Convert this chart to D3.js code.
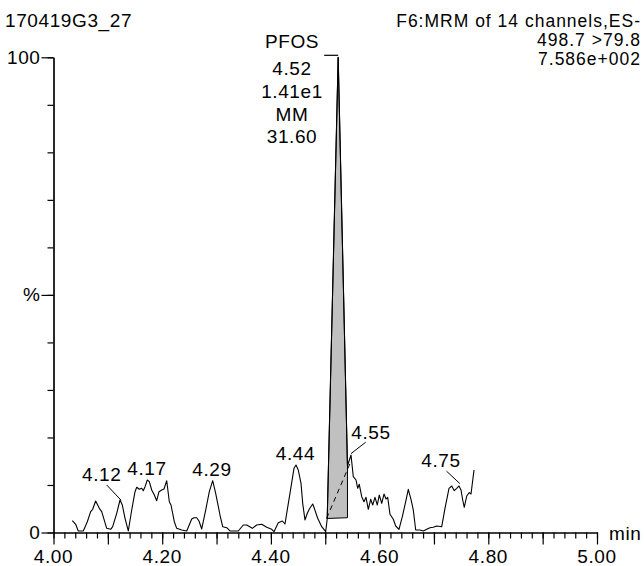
<!DOCTYPE html>
<html><head><meta charset="utf-8">
<script src="https://cdn.jsdelivr.net/npm/d3@7"></script>
<style>
body{margin:0;background:#fff;}
svg text{font-family:"Liberation Sans",Arial,Helvetica,sans-serif;font-size:19px;letter-spacing:0.6px;fill:#000;}
svg text.hdr{font-size:17.5px;letter-spacing:1.0px;}
</style></head><body>
<svg id="c" width="644" height="566"></svg>
<script>
// ---- data ----
const sampleName = "170419G3_27";
const headerLines = ["F6:MRM of 14 channels,ES-", "498.7 >79.8", "7.586e+002"];
const xTickLabels = ["4.00","4.20","4.40","4.60","4.80","5.00"];
const xMajorTicks = [4.0,4.1,4.2,4.3,4.4,4.5,4.6,4.7,4.8,4.9,5.0];
const yTickValues = [0,50,100];
const yTickLabels = ["0","%","100"];
const xUnit = "min";
const times = [4.0346,4.0408,4.0456,4.0548,4.0622,4.0684,4.0721,4.0776,4.0843,4.0887,4.0979,4.1052,4.1089,4.1163,4.1224,4.1266,4.1316,4.1376,4.1439,4.1500,4.1531,4.1579,4.1623,4.1652,4.1684,4.1726,4.1763,4.1807,4.1855,4.1899,4.1941,4.1991,4.2033,4.2083,4.2131,4.2162,4.2223,4.2267,4.2359,4.2451,4.2543,4.2585,4.2635,4.2677,4.2727,4.2800,4.2867,4.2929,4.2984,4.3021,4.3063,4.3113,4.3187,4.3247,4.3400,4.3492,4.3555,4.3658,4.3739,4.3831,4.3923,4.4015,4.4057,4.4136,4.4210,4.4259,4.4351,4.4425,4.4462,4.4504,4.4554,4.4585,4.4627,4.4670,4.4707,4.4769,4.4799,4.4861,4.4935,4.5008,4.5036,4.5238,4.5409,4.5474,4.5516,4.5566,4.5597,4.5626,4.5671,4.5713,4.5750,4.5792,4.5836,4.5873,4.5915,4.5958,4.5994,4.6039,4.6081,4.6118,4.6149,4.6191,4.6252,4.6296,4.6357,4.6418,4.6480,4.6528,4.6578,4.6620,4.6664,4.6743,4.6804,4.6867,4.6927,4.6988,4.7051,4.7143,4.7203,4.7277,4.7327,4.7374,4.7419,4.7461,4.7498,4.7529,4.7558,4.7603,4.7650,4.7682,4.7737];
const intensity = [2.48,1.73,0.32,0.32,2.27,4.38,4.88,6.63,5.09,4.38,0.88,0.67,1.22,4.04,6.84,5.79,2.99,0.32,4.73,8.59,9.51,9.09,9.30,8.80,9.64,11.05,10.69,8.94,7.89,6.69,8.59,8.94,9.15,10.90,6.48,5.79,2.27,0.88,0.53,0.32,2.84,3.11,3.11,2.42,0.74,4.73,8.59,10.90,8.25,6.14,3.68,1.22,1.01,0.32,0.32,1.58,1.58,0.88,1.58,1.73,1.09,0.67,0.17,2.06,2.42,1.79,8.25,13.51,14.20,13.15,10.35,6.14,2.63,4.04,4.95,6.00,5.09,2.99,1.22,0.17,2.84,100,14.0,16.31,11.74,11.05,9.30,10.14,7.53,6.48,7.41,4.88,6.99,5.79,7.41,5.79,7.89,6.14,8.10,7.05,7.41,3.83,2.78,1.37,0.67,3.32,6.48,9.09,6.99,4.73,0.53,0.53,0.32,0.67,1.01,1.09,1.37,1.22,5.09,9.30,9.79,8.80,9.30,9.79,8.94,6.84,5.30,7.68,8.38,8.10,13.15];
// integrated peak: start/end times and baseline levels
const peakStart = [4.5036, 2.95];
const peakEnd = [4.5409, 3.11];
const peakDash = [[4.5026, 3.0],[4.5455, 14.5]];
const peakInfo = ["PFOS","4.52","1.41e1","MM","31.60"];
const peakApex = [4.5238, 100];
// retention-time annotations: text, label anchor (t, %), pointed point (t, %), leader?
const rtLabels = ["4.12","4.17","4.29","4.44","4.55","4.75"];
const rtTextT = [4.0887,4.1721,4.2917,4.4452,4.5842,4.7130];
const rtTextP = [10.8,12.1,11.9,15.3,19.6,13.8];
const rtLeaderFrom = [[4.0979,10.0],null,null,null,[4.5744,19.0],[4.7232,12.9]];
const rtLeaderTo = [[4.1242,6.8],null,null,null,[4.5474,16.6],[4.7476,10.3]];

// ---- drawing ----
const svg = d3.select("#c");
const x = d3.scaleLinear().domain([4,5]).range([53.5,597]);
const y = d3.scaleLinear().domain([0,100]).range([532.5,57.3]);

// header texts
svg.append("text").attr("x",5).attr("y",27).text(sampleName);
svg.selectAll("text.hdr").data(headerLines).enter().append("text").attr("class","hdr")
  .attr("x",641).attr("y",(d,i)=>27+i*19).attr("text-anchor","end").text(d=>d);

// x axis
const gx = svg.append("g").attr("transform",`translate(0,${y(0)})`);
const minor = d3.range(0,51).map(i=>4+i*0.02);
gx.call(d3.axisBottom(x).tickValues(minor).tickSize(6).tickSizeOuter(0).tickFormat(""));
gx.append("g").call(d3.axisBottom(x).tickValues(xMajorTicks).tickSize(12).tickSizeOuter(0).tickFormat(""));
gx.selectAll("path.domain").attr("stroke","#000").attr("stroke-width",1.2);
gx.selectAll("line").attr("stroke","#000").attr("stroke-width",1.2);
gx.selectAll("text.xl").data(xTickLabels).enter().append("text").attr("class","xl")
  .attr("x",d=>x(+d)).attr("y",30.5).attr("text-anchor","middle").text(d=>d);
svg.append("text").attr("x",609).attr("y",540).text(xUnit);

// y axis
const gy = svg.append("g").attr("transform",`translate(${x(4)},0)`);
gy.call(d3.axisLeft(y).tickValues(d3.range(0,101,10)).tickSize(6).tickSizeOuter(0).tickFormat(""));
gy.append("g").call(d3.axisLeft(y).tickValues(yTickValues).tickSize(12).tickSizeOuter(0).tickFormat(""));
gy.selectAll("path.domain").attr("stroke","#000").attr("stroke-width",1.2);
gy.selectAll("line").attr("stroke","#000").attr("stroke-width",1.2);
gy.selectAll("text.yl").data(yTickValues).enter().append("text").attr("class","yl")
  .attr("x",-13).attr("y",d=>y(d)+6.5).attr("text-anchor","end").text((d,i)=>yTickLabels[i]);

// peak fill
const pts = times.map((t,i)=>[t,intensity[i]]);
const inPeak = pts.filter(p=>p[0]>=peakStart[0] && p[0]<=peakEnd[0]);
const fillPts = [peakStart, ...inPeak, [peakEnd[0],peakEnd[1]]];
svg.append("path").attr("d", d3.line().x(d=>x(d[0])).y(d=>y(d[1]))(fillPts)+"Z")
  .attr("fill","#c0c0c0").attr("stroke","#000").attr("stroke-width",1);
svg.append("path").attr("d", d3.line().x(d=>x(d[0])).y(d=>y(d[1]))(peakDash))
  .attr("fill","none").attr("stroke","#000").attr("stroke-width",1).attr("stroke-dasharray","5,4");

// trace
svg.append("path").attr("d", d3.line().x(d=>x(d[0])).y(d=>y(d[1]))(pts))
  .attr("fill","none").attr("stroke","#000").attr("stroke-width",1.1).attr("stroke-linejoin","round");

// peak info label
svg.selectAll("text.pk").data(peakInfo).enter().append("text").attr("class","pk")
  .attr("x",292).attr("y",(d,i)=>i===0?48:75+(i-1)*22.8).attr("text-anchor","middle").text(d=>d);
svg.append("path").attr("d",`M${x(peakApex[0])-14},${y(peakApex[1])-2}H${x(peakApex[0])}`)
  .attr("stroke","#000").attr("stroke-width",1.2).attr("fill","none");

// RT labels
rtLabels.forEach((lab,i)=>{
  svg.append("text").attr("x",x(rtTextT[i])).attr("y",y(rtTextP[i])).attr("text-anchor","middle").text(lab);
  if(rtLeaderFrom[i]){
    svg.append("line").attr("x1",x(rtLeaderFrom[i][0])).attr("y1",y(rtLeaderFrom[i][1]))
      .attr("x2",x(rtLeaderTo[i][0])).attr("y2",y(rtLeaderTo[i][1])).attr("stroke","#000").attr("stroke-width",1);
  }
});
</script></body></html>
